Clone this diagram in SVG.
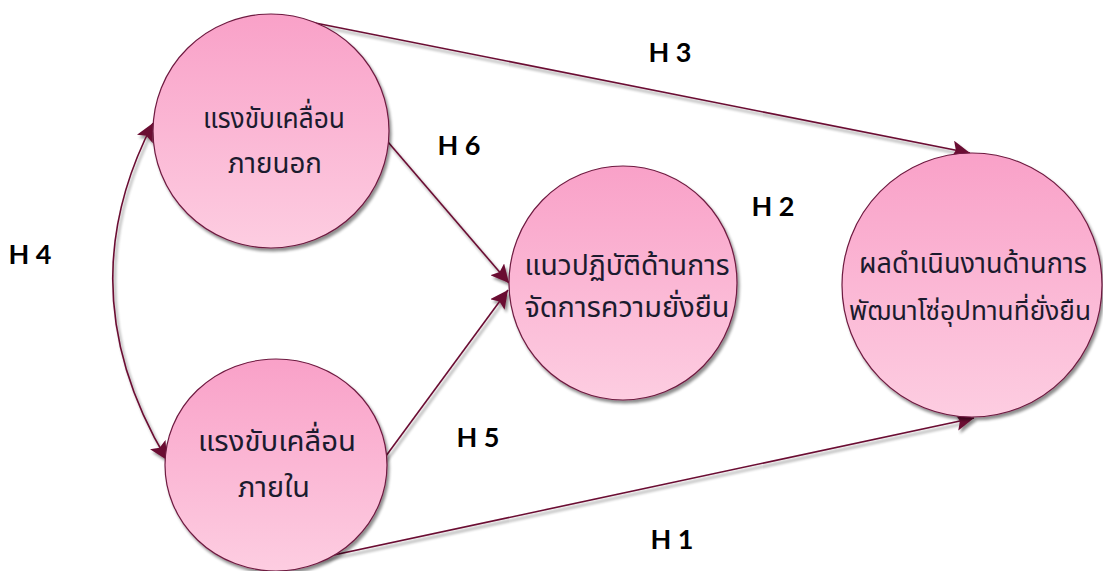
<svg xmlns="http://www.w3.org/2000/svg" width="1103" height="571" viewBox="0 0 1103 571">
<defs>
<linearGradient id="pink" x1="0" y1="0" x2="0" y2="1">
<stop offset="0" stop-color="#f9a1c8"/>
<stop offset="1" stop-color="#fdcde1"/>
</linearGradient>
<filter id="sh" x="-20%" y="-20%" width="140%" height="140%">
<feGaussianBlur in="SourceAlpha" stdDeviation="1.5"/>
<feOffset dx="2" dy="3" result="b"/>
<feComponentTransfer><feFuncA type="linear" slope="0.45"/></feComponentTransfer>
<feMerge><feMergeNode/><feMergeNode in="SourceGraphic"/></feMerge>
</filter>
<marker id="ah" viewBox="0 0 10 10" refX="10" refY="5" markerWidth="18" markerHeight="18" markerUnits="userSpaceOnUse" orient="auto-start-reverse">
<path d="M0,0 L10,5 L0,10 L2,5 Z" fill="#6a0b32"/>
</marker>
</defs>
<style>
.node ellipse{fill:url(#pink);stroke:#6e1a40;stroke-width:1.2;filter:url(#sh)}
.node text{font-family:"Noto Sans Thai","Noto Sans","DejaVu Sans",Tahoma,sans-serif;font-size:29px;fill:#1b1b2e;text-anchor:middle}
.conn path,.conn line{fill:none;stroke:#6a0b32;stroke-width:1.6;filter:url(#sh)}
.lbl{font-family:Lato,"Liberation Sans",sans-serif;font-weight:bold;font-size:27px;fill:#000;text-anchor:middle}
</style>
<rect width="1103" height="571" fill="#fff"/>
<g class="conn">
<line x1="280" y1="16" x2="970" y2="153" marker-end="url(#ah)"/>
<line x1="388" y1="142" x2="509" y2="283" marker-end="url(#ah)"/>
<line x1="383" y1="460" x2="508" y2="290" marker-end="url(#ah)"/>
<line x1="737" y1="286" x2="842" y2="286" marker-end="url(#ah)"/>
<line x1="273" y1="568" x2="974" y2="418" marker-end="url(#ah)"/>
<path d="M153,123 Q66,291 167,460" marker-start="url(#ah)" marker-end="url(#ah)"/>
</g>
<g id="node-external" class="node">
<ellipse cx="271" cy="131" rx="118" ry="117"/>
<text x="274" y="128" textLength="142" lengthAdjust="spacingAndGlyphs">แรงขับเคลื่อน</text>
<text x="275" y="173" textLength="94" lengthAdjust="spacingAndGlyphs">ภายนอก</text>
</g>
<g id="node-internal" class="node">
<ellipse cx="276" cy="465" rx="111" ry="106"/>
<text x="277" y="451" textLength="158" lengthAdjust="spacingAndGlyphs">แรงขับเคลื่อน</text>
<text x="274" y="497" textLength="72" lengthAdjust="spacingAndGlyphs">ภายใน</text>
</g>
<g id="node-practice" class="node">
<ellipse cx="623" cy="283" rx="114" ry="117"/>
<text x="627" y="275" textLength="205" lengthAdjust="spacingAndGlyphs">แนวปฏิบัติด้านการ</text>
<text x="627" y="317" textLength="205" lengthAdjust="spacingAndGlyphs">จัดการความยั่งยืน</text>
</g>
<g id="node-performance" class="node">
<ellipse cx="972" cy="285" rx="130" ry="132"/>
<text x="973" y="273" textLength="228" lengthAdjust="spacingAndGlyphs">ผลดำเนินงานด้านการ</text>
<text x="970" y="320" style="font-size:26px" textLength="242" lengthAdjust="spacingAndGlyphs">พัฒนาโซ่อุปทานที่ยั่งยืน</text>
</g>
<g id="labels">
<text class="lbl" x="670" y="62">H 3</text>
<text class="lbl" x="459" y="155">H 6</text>
<text class="lbl" x="773" y="216">H 2</text>
<text class="lbl" x="30" y="264">H 4</text>
<text class="lbl" x="478" y="447">H 5</text>
<text class="lbl" x="672" y="549">H 1</text>
</g>
</svg>
